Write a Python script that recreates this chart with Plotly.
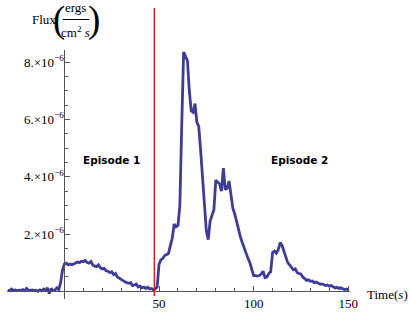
import plotly.graph_objects as go

# ---- data (time in s, flux in 1e-6 ergs/(cm^2 s)) ----
time_s = list(range(-30, 151))
flux_e6 = [
    0.03, 0.02, 0.08, 0.03, 0.05, 0.02, 0.04, 0.03, 0.06, 0.02,   # -30..-21
    0.10, 0.04, 0.03, 0.05, 0.02, 0.04, 0.00, 0.05, 0.02, 0.08,   # -20..-11
    0.03, 0.12, -0.08, 0.10, 0.02, 0.04, 0.12, 0.06, 0.30, 0.75,  # -10..-1
    0.95, 0.98, 0.92, 0.95, 0.93, 0.96, 0.98, 1.02, 1.00, 1.05,   # 0..9
    1.03, 1.08, 1.00, 0.98, 1.04, 0.92, 0.88, 0.86, 0.92, 0.82,   # 10..19
    0.78, 0.80, 0.72, 0.70, 0.65, 0.68, 0.58, 0.62, 0.50, 0.45,   # 20..29
    0.42, 0.38, 0.33, 0.30, 0.28, 0.30, 0.20, 0.22, 0.25, 0.15,   # 30..39
    0.18, 0.12, 0.15, 0.10, 0.14, 0.08, 0.10, 0.05, 0.08, 0.15,   # 40..49
    0.95, 1.10, 1.15, 1.25, 1.28, 1.32, 1.60, 1.85, 2.35, 2.25,   # 50..59
    2.30, 3.00, 5.80, 8.35, 8.20, 8.05, 7.00, 6.30, 6.25, 6.55,   # 60..69
    5.90, 5.75, 4.90, 3.90, 3.00, 2.10, 1.80, 2.45, 2.65, 2.85,   # 70..79
    3.88, 3.80, 3.75, 3.50, 4.30, 3.55, 3.60, 3.85, 3.45, 2.90,   # 80..89
    2.70, 2.40, 2.15, 1.90, 1.70, 1.50, 1.35, 1.15, 1.00, 0.75,   # 90..99
    0.55, 0.55, 0.53, 0.55, 0.60, 0.70, 0.48, 0.50, 0.62, 0.68,   # 100..109
    1.35, 1.40, 1.33, 1.45, 1.70, 1.60, 1.40, 1.20, 1.00, 0.92,   # 110..119
    0.85, 0.75, 0.78, 0.65, 0.62, 0.60, 0.50, 0.42, 0.38, 0.40,   # 120..129
    0.35, 0.36, 0.30, 0.32, 0.28, 0.25, 0.26, 0.24, 0.20, 0.22,   # 130..139
    0.18, 0.20, 0.17, 0.12, 0.14, 0.10, 0.12, 0.08, 0.06, 0.08,   # 140..149
    0.05,                                                         # 150
]
flux = [v * 1e-6 for v in flux_e6]

split_time = 47.5
episode_labels = ["Episode 1", "Episode 2"]
episode_label_x = [25, 124]
episode_label_y = [4.6e-6, 4.6e-6]

x_tick_vals = [50, 100, 150]
x_tick_text = ["50", "100", "150"]
x_minor_vals = [10, 20, 30, 40, 60, 70, 80, 90, 110, 120, 130, 140]
y_tick_vals = [2e-6, 4e-6, 6e-6, 8e-6]
y_tick_text = ["2.×10<sup>−6</sup>", "4.×10<sup>−6</sup>",
               "6.×10<sup>−6</sup>", "8.×10<sup>−6</sup>"]
y_minor_vals = [k * 0.5e-6 for k in range(1, 17) if k % 4 != 0]

W, H = 410, 318
LINE = "#3d3d99"
AX = "#555555"
SERIF = "Liberation Serif, Times New Roman, serif"

fig = go.Figure()
fig.add_trace(go.Scatter(x=time_s, y=flux, mode="lines",
                         line=dict(color=LINE, width=2.8), hoverinfo="skip"))

fig.add_shape(type="line", xref="x", yref="paper",
              x0=split_time, x1=split_time, y0=1 - 296 / H, y1=1 - 8 / H,
              line=dict(color="#e8141c", width=1.4))

for txt, ex, ey in zip(episode_labels, episode_label_x, episode_label_y):
    fig.add_annotation(x=ex, y=ey, xref="x", yref="y", text="<b>" + txt + "</b>",
                       showarrow=False,
                       font=dict(family="DejaVu Sans", size=10.5, color="black"),
                       xanchor="center", yanchor="middle")

def px(xp, yp):
    return xp / W, 1 - yp / H

def ann(xp, yp, text, size, xanchor="center"):
    x, y = px(xp, yp)
    fig.add_annotation(x=x, y=y, xref="paper", yref="paper", text=text,
                       showarrow=False, xanchor=xanchor, yanchor="middle",
                       font=dict(family=SERIF, size=size, color="black"))

# y-axis label: Flux(ergs / cm^2 s)
ann(45, 20, "Flux", 13)
ann(60, 20, "(", 37)
ann(77.5, 8, "ergs", 13)
ann(77.5, 32, "cm<sup>2</sup> <i>s</i>", 13)
ann(95.5, 20, ")", 37)
x0, y0 = px(64, 19.5)
x1, _ = px(91, 19.5)
fig.add_shape(type="line", xref="paper", yref="paper", x0=x0, x1=x1, y0=y0, y1=y0,
              line=dict(color="black", width=1))
ann(372, 294, "Time(<i>s</i>)", 13, xanchor="left")

x_dom = [7 / W, 357 / W]
y_dom = [1 - 299 / H, 1 - 50 / H]
# axis scale: px = 65.7 + 1.93 t ; py = 291.3 - 28.65 f(e-6)
x_rng = [(7 - 65.7) / 1.93, (357 - 65.7) / 1.93]
y_rng = [(291.3 - 299) / 28.65 * 1e-6, (291.3 - 50) / 28.65 * 1e-6]

fig.update_layout(
    width=W, height=H, margin=dict(l=0, r=0, t=0, b=0),
    paper_bgcolor="white", plot_bgcolor="white", showlegend=False,
    xaxis=dict(domain=x_dom, range=x_rng, anchor="free", position=1 - 291.3 / H,
               showgrid=False, zeroline=False, showline=True, linecolor=AX, linewidth=1,
               tickmode="array", tickvals=x_tick_vals, ticktext=x_tick_text,
               ticks="inside", ticklen=5, tickcolor=AX, tickwidth=1,
               tickfont=dict(family=SERIF, size=13, color="black"),
               minor=dict(tickmode="array", tickvals=x_minor_vals, ticks="inside",
                          ticklen=3, tickcolor=AX, tickwidth=1, showgrid=False)),
    yaxis=dict(domain=y_dom, range=y_rng, anchor="free", position=65.7 / W,
               showgrid=False, zeroline=False, showline=True, linecolor=AX, linewidth=1,
               tickmode="array", tickvals=y_tick_vals, ticktext=y_tick_text,
               ticks="inside", ticklen=5, tickcolor=AX, tickwidth=1,
               ticklabelstandoff=-2,
               tickfont=dict(family=SERIF, size=13, color="black"),
               minor=dict(tickmode="array", tickvals=y_minor_vals, ticks="inside",
                          ticklen=3, tickcolor=AX, tickwidth=1, showgrid=False)),
)

fig.write_html("out.html", config={"displayModeBar": False},
               post_script="document.body.style.margin='0';"
                           "document.body.style.overflow='hidden';")
